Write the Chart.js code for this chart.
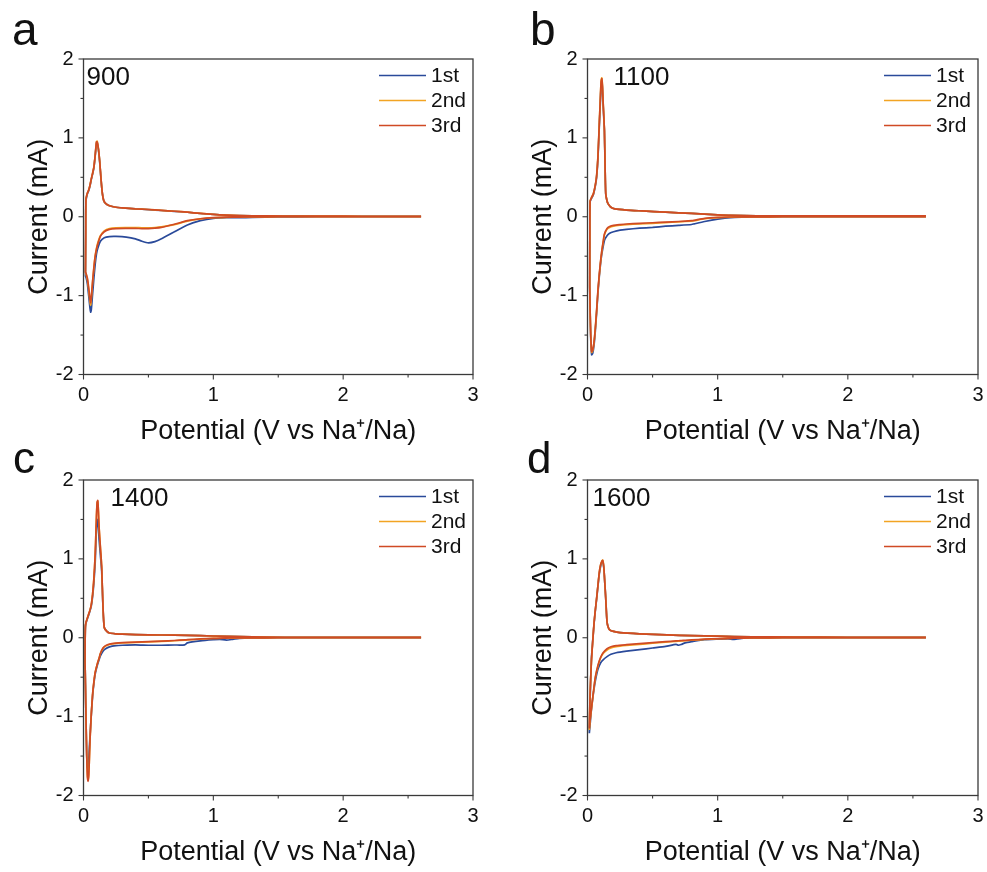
<!DOCTYPE html>
<html><head><meta charset="utf-8">
<script src="https://cdn.jsdelivr.net/npm/chart.js@4.4.1/dist/chart.umd.min.js"></script>
<style>
html,body{margin:0;padding:0;background:#fff;}
#wrap{position:relative;width:987px;height:872px;overflow:hidden;background:#fff;}
canvas{position:absolute;}
</style></head><body><div id="wrap">
<canvas id="ca" width="493" height="451" style="left:0;top:0"></canvas>
<canvas id="cb" width="493" height="451" style="left:504px;top:0"></canvas>
<canvas id="cc" width="493" height="451" style="left:0;top:421px"></canvas>
<canvas id="cd" width="493" height="451" style="left:504px;top:421px"></canvas>
</div>
<script>
// ---------- labels ----------
const seriesLabels = ['1st', '2nd', '3rd'];
const panelLetters = ['a', 'b', 'c', 'd'];
const sampleNames = ['900', '1100', '1400', '1600'];
const xTickLabels = ['0', '1', '2', '3'];
const yTickLabels = ['-2', '-1', '0', '1', '2'];
const xTitle = 'Potential (V vs Na\u207A/Na)';
const yTitle = 'Current (mA)';

// ---------- panel a (900) ----------
const a_cathV = [2.6, 2.2, 1.8, 1.5, 1.3, 1.2, 1.1, 1.0, 0.9, 0.8, 0.7, 0.6, 0.55, 0.5, 0.45, 0.4, 0.33, 0.25, 0.2, 0.16, 0.13, 0.11, 0.1, 0.09, 0.08, 0.07, 0.06, 0.055, 0.05, 0.04, 0.03, 0.02, 0.015];
const a_cath1 = [0, 0, 0, -0.002, -0.008, -0.012, -0.012, -0.02, -0.05, -0.105, -0.19, -0.28, -0.315, -0.33, -0.31, -0.28, -0.258, -0.25, -0.252, -0.265, -0.31, -0.4, -0.47, -0.6, -0.78, -0.98, -1.18, -1.21, -1.16, -1.0, -0.85, -0.77, -0.75];
const a_cath2 = [0, 0, 0, 0, -0.002, -0.004, -0.007, -0.013, -0.028, -0.055, -0.1, -0.128, -0.136, -0.14, -0.14, -0.138, -0.138, -0.14, -0.15, -0.18, -0.24, -0.33, -0.4, -0.5, -0.65, -0.83, -1.05, -1.12, -1.08, -0.92, -0.8, -0.73, -0.71];
const a_cath3 = [0, 0, 0, 0, -0.002, -0.004, -0.006, -0.012, -0.025, -0.05, -0.095, -0.135, -0.145, -0.15, -0.15, -0.148, -0.148, -0.15, -0.16, -0.19, -0.25, -0.35, -0.41, -0.5, -0.64, -0.82, -1.02, -1.09, -1.05, -0.9, -0.78, -0.72, -0.7];
const a_anodV = [0.015, 0.017, 0.019, 0.03, 0.04, 0.05, 0.06, 0.07, 0.08, 0.09, 0.1, 0.105, 0.115, 0.125, 0.135, 0.145, 0.155, 0.17, 0.2, 0.25, 0.3, 0.4, 0.5, 0.6, 0.7, 0.8, 0.9, 1.0, 1.1, 1.2, 1.4, 1.7, 2.0, 2.3, 2.6];
const a_anod1 = [-0.75, -0.25, 0.2, 0.29, 0.33, 0.39, 0.47, 0.54, 0.62, 0.77, 0.93, 0.94, 0.85, 0.69, 0.47, 0.3, 0.21, 0.17, 0.14, 0.12, 0.112, 0.1, 0.09, 0.079, 0.069, 0.057, 0.041, 0.029, 0.019, 0.013, 0.009, 0.007, 0.006, 0.005, 0.005];
const a_anod2 = [-0.71, -0.2, 0.22, 0.3, 0.34, 0.4, 0.48, 0.55, 0.63, 0.78, 0.95, 0.96, 0.86, 0.7, 0.48, 0.3, 0.21, 0.17, 0.14, 0.12, 0.113, 0.1, 0.092, 0.08, 0.07, 0.058, 0.042, 0.03, 0.02, 0.014, 0.01, 0.008, 0.007, 0.006, 0.006];
const a_anod3 = [-0.7, -0.2, 0.22, 0.3, 0.34, 0.4, 0.48, 0.55, 0.63, 0.78, 0.95, 0.95, 0.86, 0.7, 0.48, 0.3, 0.21, 0.17, 0.14, 0.12, 0.113, 0.1, 0.092, 0.08, 0.07, 0.058, 0.042, 0.03, 0.02, 0.014, 0.01, 0.008, 0.007, 0.006, 0.006];

// ---------- panel b (1100) ----------
const b_cathV = [2.6, 2.2, 1.8, 1.5, 1.3, 1.2, 1.1, 1.0, 0.9, 0.82, 0.8, 0.7, 0.6, 0.5, 0.4, 0.3, 0.25, 0.2, 0.17, 0.15, 0.13, 0.12, 0.11, 0.1, 0.09, 0.08, 0.07, 0.06, 0.05, 0.04, 0.032, 0.025, 0.02, 0.017];
const b_cath1 = [0, 0, 0, 0, -0.002, -0.005, -0.01, -0.03, -0.06, -0.09, -0.098, -0.11, -0.12, -0.135, -0.145, -0.16, -0.17, -0.19, -0.21, -0.24, -0.3, -0.38, -0.47, -0.6, -0.77, -0.97, -1.22, -1.45, -1.63, -1.73, -1.75, -1.55, -1.2, -0.9];
const b_cath2 = [0, 0, 0, 0, -0.001, -0.002, -0.004, -0.01, -0.025, -0.05, -0.055, -0.065, -0.074, -0.083, -0.09, -0.1, -0.108, -0.12, -0.135, -0.16, -0.23, -0.33, -0.44, -0.58, -0.75, -0.95, -1.2, -1.42, -1.6, -1.7, -1.72, -1.52, -1.18, -0.88];
const b_cath3 = [0, 0, 0, 0, -0.001, -0.002, -0.003, -0.008, -0.02, -0.045, -0.05, -0.06, -0.068, -0.076, -0.083, -0.092, -0.1, -0.11, -0.125, -0.15, -0.22, -0.32, -0.43, -0.57, -0.74, -0.94, -1.19, -1.41, -1.59, -1.69, -1.71, -1.5, -1.17, -0.87];
const b_anodV = [0.017, 0.018, 0.02, 0.03, 0.045, 0.06, 0.07, 0.08, 0.09, 0.1, 0.105, 0.11, 0.115, 0.12, 0.13, 0.135, 0.14, 0.15, 0.16, 0.18, 0.21, 0.3, 0.42, 0.6, 0.8, 1.0, 1.1, 1.3, 1.6, 2.0, 2.3, 2.6];
const b_anod1 = [-0.9, -0.2, 0.19, 0.23, 0.28, 0.39, 0.5, 0.73, 1.12, 1.5, 1.68, 1.72, 1.62, 1.42, 1.08, 0.63, 0.29, 0.2, 0.16, 0.12, 0.1, 0.085, 0.074, 0.058, 0.042, 0.025, 0.018, 0.012, 0.01, 0.01, 0.01, 0.01];
const b_anod2 = [-0.88, -0.2, 0.2, 0.24, 0.29, 0.4, 0.52, 0.76, 1.16, 1.56, 1.73, 1.76, 1.66, 1.46, 1.1, 0.65, 0.3, 0.2, 0.16, 0.12, 0.1, 0.085, 0.074, 0.058, 0.042, 0.025, 0.018, 0.012, 0.01, 0.01, 0.01, 0.01];
const b_anod3 = [-0.87, -0.2, 0.2, 0.24, 0.29, 0.4, 0.52, 0.75, 1.15, 1.55, 1.72, 1.75, 1.65, 1.45, 1.1, 0.65, 0.3, 0.2, 0.16, 0.12, 0.1, 0.085, 0.074, 0.058, 0.042, 0.025, 0.018, 0.012, 0.01, 0.01, 0.01, 0.01];

// ---------- panel c (1400) ----------
const c_cathV = [2.6, 2.2, 1.8, 1.5, 1.3, 1.2, 1.15, 1.1, 1.05, 1.0, 0.9, 0.8, 0.78, 0.7, 0.6, 0.5, 0.4, 0.3, 0.25, 0.2, 0.17, 0.15, 0.13, 0.12, 0.11, 0.1, 0.09, 0.08, 0.07, 0.06, 0.05, 0.045, 0.04, 0.035, 0.03, 0.025, 0.02, 0.015, 0.012];
const c_cath1 = [0, 0, 0, 0, -0.003, -0.008, -0.02, -0.03, -0.02, -0.025, -0.04, -0.065, -0.09, -0.092, -0.095, -0.095, -0.09, -0.095, -0.1, -0.115, -0.14, -0.17, -0.23, -0.28, -0.33, -0.39, -0.46, -0.58, -0.74, -0.98, -1.25, -1.4, -1.55, -1.63, -1.65, -1.5, -1.1, -0.6, -0.3];
const c_cath2 = [0, 0, 0, 0, -0.002, -0.003, -0.004, -0.005, -0.007, -0.009, -0.017, -0.028, -0.03, -0.038, -0.046, -0.053, -0.058, -0.066, -0.072, -0.085, -0.105, -0.135, -0.2, -0.26, -0.31, -0.37, -0.44, -0.56, -0.72, -0.97, -1.3, -1.55, -1.74, -1.8, -1.74, -1.5, -1.1, -0.6, -0.3];
const c_cath3 = [0, 0, 0, 0, -0.002, -0.002, -0.003, -0.004, -0.006, -0.008, -0.015, -0.025, -0.027, -0.035, -0.043, -0.05, -0.055, -0.062, -0.068, -0.08, -0.1, -0.13, -0.2, -0.26, -0.31, -0.37, -0.44, -0.56, -0.72, -0.97, -1.3, -1.55, -1.76, -1.82, -1.76, -1.5, -1.1, -0.6, -0.3];
const c_anodV = [0.012, 0.013, 0.015, 0.02, 0.03, 0.04, 0.05, 0.06, 0.07, 0.08, 0.09, 0.095, 0.1, 0.105, 0.11, 0.115, 0.12, 0.13, 0.14, 0.15, 0.16, 0.18, 0.2, 0.25, 0.3, 0.4, 0.6, 0.8, 1.0, 1.2, 1.4, 1.7, 2.0, 2.3, 2.6];
const c_anod1 = [-0.3, 0.0, 0.14, 0.19, 0.24, 0.29, 0.34, 0.4, 0.52, 0.7, 0.95, 1.18, 1.38, 1.48, 1.5, 1.4, 1.25, 1.05, 0.85, 0.38, 0.13, 0.08, 0.06, 0.05, 0.045, 0.04, 0.035, 0.03, 0.022, 0.014, 0.008, 0.005, 0.004, 0.004, 0.004];
const c_anod2 = [-0.3, 0.0, 0.15, 0.2, 0.25, 0.3, 0.35, 0.42, 0.55, 0.75, 1.05, 1.3, 1.55, 1.71, 1.73, 1.6, 1.4, 1.15, 0.9, 0.4, 0.13, 0.08, 0.06, 0.05, 0.045, 0.04, 0.035, 0.03, 0.022, 0.014, 0.008, 0.005, 0.004, 0.004, 0.004];
const c_anod3 = [-0.3, 0.0, 0.15, 0.2, 0.25, 0.3, 0.35, 0.42, 0.55, 0.75, 1.05, 1.3, 1.55, 1.72, 1.74, 1.6, 1.4, 1.15, 0.9, 0.4, 0.13, 0.08, 0.06, 0.05, 0.045, 0.04, 0.035, 0.03, 0.022, 0.014, 0.008, 0.005, 0.004, 0.004, 0.004];

// ---------- panel d (1600) ----------
const d_cathV = [2.6, 2.2, 1.8, 1.5, 1.3, 1.2, 1.15, 1.12, 1.08, 1.0, 0.9, 0.8, 0.75, 0.72, 0.7, 0.68, 0.6, 0.5, 0.4, 0.3, 0.22, 0.18, 0.15, 0.12, 0.1, 0.08, 0.06, 0.045, 0.032, 0.025, 0.02, 0.014];
const d_cath1 = [0, 0, 0, 0, -0.003, -0.006, -0.015, -0.022, -0.015, -0.018, -0.025, -0.05, -0.065, -0.085, -0.095, -0.085, -0.11, -0.13, -0.15, -0.17, -0.19, -0.21, -0.24, -0.28, -0.32, -0.4, -0.55, -0.71, -0.88, -1.0, -1.1, -1.21];
const d_cath2 = [0, 0, 0, 0, -0.002, -0.004, -0.005, -0.006, -0.008, -0.013, -0.02, -0.032, -0.038, -0.041, -0.043, -0.045, -0.056, -0.07, -0.085, -0.098, -0.112, -0.128, -0.155, -0.2, -0.26, -0.36, -0.51, -0.7, -0.88, -0.98, -1.06, -1.17];
const d_cath3 = [0, 0, 0, 0, -0.002, -0.004, -0.005, -0.006, -0.008, -0.012, -0.018, -0.028, -0.033, -0.036, -0.038, -0.04, -0.05, -0.062, -0.075, -0.088, -0.1, -0.115, -0.14, -0.19, -0.25, -0.35, -0.5, -0.69, -0.87, -0.97, -1.04, -1.15];
const d_anodV = [0.014, 0.02, 0.03, 0.04, 0.05, 0.06, 0.07, 0.08, 0.09, 0.1, 0.11, 0.117, 0.125, 0.13, 0.14, 0.15, 0.16, 0.17, 0.2, 0.25, 0.4, 0.61, 0.8, 1.0, 1.12, 1.4, 1.8, 2.2, 2.6];
const d_anod1 = [-1.21, -0.78, -0.27, -0.04, 0.17, 0.34, 0.49, 0.65, 0.8, 0.9, 0.96, 0.97, 0.89, 0.77, 0.5, 0.2, 0.13, 0.1, 0.08, 0.065, 0.05, 0.036, 0.027, 0.02, 0.015, 0.01, 0.007, 0.006, 0.005];
const d_anod2 = [-1.17, -0.72, -0.3, -0.05, 0.18, 0.35, 0.5, 0.66, 0.82, 0.92, 0.97, 0.985, 0.9, 0.78, 0.5, 0.2, 0.13, 0.1, 0.08, 0.065, 0.05, 0.036, 0.027, 0.02, 0.015, 0.01, 0.007, 0.006, 0.005];
const d_anod3 = [-1.15, -0.7, -0.3, -0.05, 0.18, 0.35, 0.5, 0.66, 0.82, 0.92, 0.97, 0.98, 0.9, 0.78, 0.5, 0.2, 0.13, 0.1, 0.08, 0.065, 0.05, 0.036, 0.027, 0.02, 0.015, 0.01, 0.007, 0.006, 0.005];

// ---------- styling ----------
const FONT = '"Liberation Sans", Arial, Helvetica, sans-serif';
const COLORS = ['#2a4a9a', '#f2a423', '#d04a24'];
const AXIS = '#3a3a3a';

function loop(cV, cI, aV, aI) {
  const pts = [];
  cV.forEach((v, i) => pts.push({x: v, y: cI[i]}));
  aV.forEach((v, i) => pts.push({x: v, y: aI[i]}));
  return pts;
}

const panels = [
  {id: 'ca', right: 473, letterX: 12, letterSize: 46, letterY: 45, sampleDX: 3,
   cycles: [[a_cathV, a_cath1, a_anodV, a_anod1], [a_cathV, a_cath2, a_anodV, a_anod2], [a_cathV, a_cath3, a_anodV, a_anod3]]},
  {id: 'cb', right: 474, letterX: 26, letterSize: 46, letterY: 45, sampleDX: 26,
   cycles: [[b_cathV, b_cath1, b_anodV, b_anod1], [b_cathV, b_cath2, b_anodV, b_anod2], [b_cathV, b_cath3, b_anodV, b_anod3]]},
  {id: 'cc', right: 473, letterX: 13, letterSize: 44, letterY: 52, sampleDX: 27,
   cycles: [[c_cathV, c_cath1, c_anodV, c_anod1], [c_cathV, c_cath2, c_anodV, c_anod2], [c_cathV, c_cath3, c_anodV, c_anod3]]},
  {id: 'cd', right: 474, letterX: 23, letterSize: 44, letterY: 52, sampleDX: 5,
   cycles: [[d_cathV, d_cath1, d_anodV, d_anod1], [d_cathV, d_cath2, d_anodV, d_anod2], [d_cathV, d_cath3, d_anodV, d_anod3]]}
];

const decor = {
  id: 'decor',
  afterDraw(chart, args, o) {
    const {ctx, chartArea: ca, scales: {x, y}} = chart;
    ctx.save();
    ctx.strokeStyle = AXIS;
    ctx.lineWidth = 1.3;
    ctx.strokeRect(ca.left, ca.top, ca.right - ca.left, ca.bottom - ca.top);
    ctx.lineWidth = 1.1;
    x.ticks.forEach(t => {
      const px = x.getPixelForValue(t.value);
      const len = Math.abs(t.value - Math.round(t.value)) < 1e-6 ? 5 : 3;
      ctx.beginPath(); ctx.moveTo(px, ca.bottom); ctx.lineTo(px, ca.bottom + len); ctx.stroke();
    });
    y.ticks.forEach(t => {
      const py = y.getPixelForValue(t.value);
      const len = Math.abs(t.value - Math.round(t.value)) < 1e-6 ? 5 : 3;
      ctx.beginPath(); ctx.moveTo(ca.left, py); ctx.lineTo(ca.left - len, py); ctx.stroke();
    });
    ctx.fillStyle = '#111';
    ctx.textBaseline = 'alphabetic';
    ctx.textAlign = 'left';
    ctx.font = o.letterSize + 'px ' + FONT;
    ctx.fillText(o.letter, o.letterX, o.letterY);
    ctx.font = '26px ' + FONT;
    ctx.fillText(o.sample, ca.left + o.sampleDX, ca.top + 26);
    ctx.font = '21px ' + FONT;
    ctx.textBaseline = 'middle';
    chart.data.datasets.forEach((ds, i) => {
      const yy = ca.top + 16.5 + 25 * i;
      ctx.strokeStyle = ds.borderColor;
      ctx.lineWidth = 1.6;
      ctx.beginPath(); ctx.moveTo(ca.right - 94, yy); ctx.lineTo(ca.right - 47, yy); ctx.stroke();
      ctx.fillStyle = '#111';
      ctx.fillText(ds.label, ca.right - 42, yy + 1);
    });
    ctx.restore();
  }
};

panels.forEach((p, pi) => {
  const datasets = p.cycles.map((c, k) => ({
    label: seriesLabels[k],
    data: loop(c[0], c[1], c[2], c[3]),
    borderColor: COLORS[k],
    backgroundColor: COLORS[k],
    borderWidth: 1.7,
    pointRadius: 0,
    showLine: true,
    tension: 0.2,
    fill: false,
    order: 3 - k
  }));
  new Chart(document.getElementById(p.id), {
    type: 'scatter',
    data: {datasets},
    plugins: [decor],
    options: {
      responsive: false,
      animation: false,
      devicePixelRatio: 1,
      layout: {padding: {left: 0, top: 59, right: 493 - p.right, bottom: 0}},
      plugins: {
        legend: {display: false},
        tooltip: {enabled: false},
        decor: {letter: panelLetters[pi], sample: sampleNames[pi], letterX: p.letterX, letterY: p.letterY, letterSize: p.letterSize, sampleDX: p.sampleDX}
      },
      scales: {
        x: {
          type: 'linear', min: 0, max: 3,
          afterFit(s) { s.height = 451 - 374.5; },
          grid: {display: false, drawTicks: false},
          border: {display: false},
          ticks: {
            stepSize: 0.5, autoSkip: false, maxRotation: 0, padding: 9,
            color: '#111', font: {family: FONT, size: 20},
            callback: v => (Math.abs(v - Math.round(v)) < 1e-6 ? xTickLabels[Math.round(v)] : '')
          },
          title: {display: true, text: xTitle, color: '#111', font: {family: FONT, size: 27}, padding: {top: 0, bottom: 3}}
        },
        y: {
          type: 'linear', min: -2, max: 2,
          afterFit(s) { s.width = 83.5; },
          grid: {display: false, drawTicks: false},
          border: {display: false},
          ticks: {
            stepSize: 0.5, autoSkip: false, padding: 10,
            color: '#111', font: {family: FONT, size: 20},
            callback: v => (Math.abs(v - Math.round(v)) < 1e-6 ? yTickLabels[Math.round(v) + 2] : '')
          },
          title: {display: true, text: yTitle, color: '#111', font: {family: FONT, size: 27}, padding: {top: 23, bottom: 0}}
        }
      }
    }
  });
});
</script>
</body></html>
